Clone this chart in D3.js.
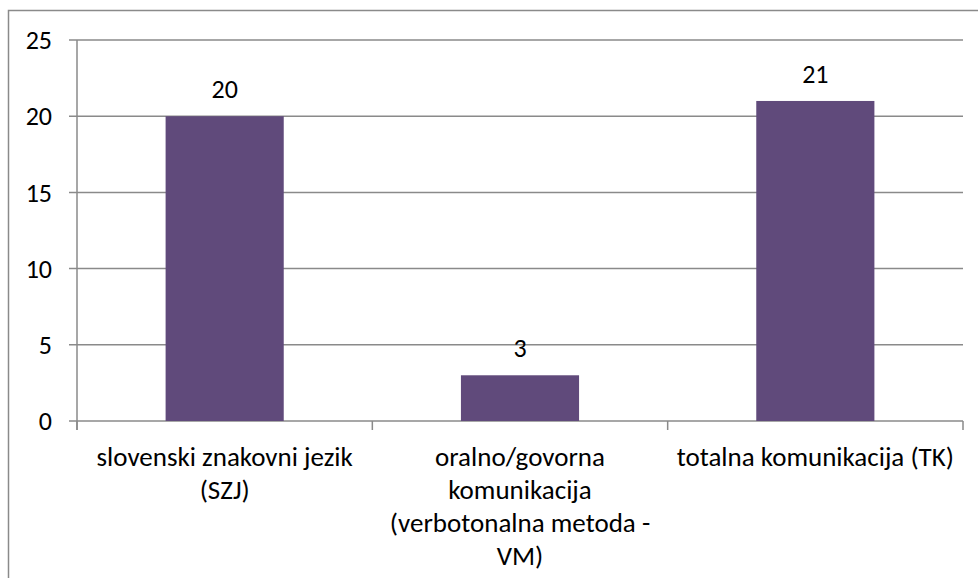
<!DOCTYPE html>
<html>
<head>
<meta charset="utf-8">
<script src="https://cdn.jsdelivr.net/npm/d3@7"></script>
<style>
  html, body { margin: 0; padding: 0; background: #fff; }
  text { font-family: Carlito, Calibri, Lato, "Open Sans", sans-serif; fill: #000; }
</style>
</head>
<body>
<div id="container"></div>
<script>
const categories = [
  ['slovenski znakovni jezik', '(SZJ)'],
  ['oralno/govorna', 'komunikacija', '(verbotonalna metoda -', 'VM)'],
  ['totalna komunikacija (TK)']
]
const values = [20, 3, 21]
const yTicks = [0, 5, 10, 15, 20, 25]

const w = 978
const h = 578
const plotLeft = 77
const plotRight = 963
const plotTop = 40
const plotBottom = 421
const gridColor = '#8a8a8a'
const barColor = '#604a7b'
const fontSize = 26

const svg = d3.select('#container')
  .append('svg')
    .attr('width', w)
    .attr('height', h)

// chart border (runs off the right and bottom edge)
svg.append('rect')
  .attr('x', 8.5)
  .attr('y', 10.5)
  .attr('width', w + 20)
  .attr('height', h + 20)
  .attr('fill', 'white')
  .attr('stroke', gridColor)
  .attr('stroke-width', 1.5)

const scaleX = d3.scaleBand()
  .domain(d3.range(categories.length))
  .range([plotLeft, plotRight])
  .paddingInner(0.6)
  .paddingOuter(0.3)

const step = scaleX.step()

const scaleY = d3.scaleLinear()
  .domain([0, 25])
  .range([plotBottom, plotTop])

// gridlines
svg.append('g')
  .selectAll('line')
  .data(yTicks)
  .enter()
  .append('line')
    .attr('x1', plotLeft - 8)
    .attr('x2', plotRight)
    .attr('y1', d => scaleY(d))
    .attr('y2', d => scaleY(d))
    .attr('stroke', gridColor)
    .attr('stroke-width', 1.5)

// y axis line
svg.append('line')
  .attr('x1', plotLeft).attr('x2', plotLeft)
  .attr('y1', plotTop).attr('y2', plotBottom + 9)
  .attr('stroke', gridColor)
  .attr('stroke-width', 1.5)

// x category ticks
const bounds = d3.range(categories.length + 1).map(i => plotLeft + i * step)
svg.append('g')
  .selectAll('line')
  .data(bounds)
  .enter()
  .append('line')
    .attr('x1', d => d).attr('x2', d => d)
    .attr('y1', plotBottom).attr('y2', plotBottom + 9)
    .attr('stroke', gridColor)
    .attr('stroke-width', 1.5)

// y tick labels
svg.append('g')
  .selectAll('text')
  .data(yTicks)
  .enter()
  .append('text')
    .attr('x', plotLeft - 25)
    .attr('y', d => scaleY(d))
    .attr('dy', '0.35em')
    .attr('text-anchor', 'end')
    .style('font-size', fontSize + 'px')
    .text(d => d)

// bars
svg.selectAll('rect.bar')
  .data(values)
  .enter()
  .append('rect')
    .attr('class', 'bar')
    .attr('x', (d, i) => scaleX(i))
    .attr('width', scaleX.bandwidth())
    .attr('y', d => scaleY(d))
    .attr('height', d => scaleY(0) - scaleY(d))
    .attr('fill', barColor)

// value labels
svg.selectAll('text.val')
  .data(values)
  .enter()
  .append('text')
    .attr('class', 'val')
    .attr('x', (d, i) => scaleX(i) + scaleX.bandwidth() / 2)
    .attr('y', d => scaleY(d) - 27)
    .attr('dy', '0.35em')
    .attr('text-anchor', 'middle')
    .style('font-size', fontSize + 'px')
    .text(d => d)

// category labels
const catG = svg.append('g')
categories.forEach((lines, i) => {
  const t = catG.append('text')
    .attr('y', plotBottom + 36)
    .attr('text-anchor', 'middle')
    .style('font-size', (fontSize + 1) + 'px')
  lines.forEach((ln, j) => {
    t.append('tspan')
      .attr('x', scaleX(i) + scaleX.bandwidth() / 2)
      .attr('dy', j === 0 ? '0.35em' : 33)
      .text(ln)
  })
})
</script>
</body>
</html>
